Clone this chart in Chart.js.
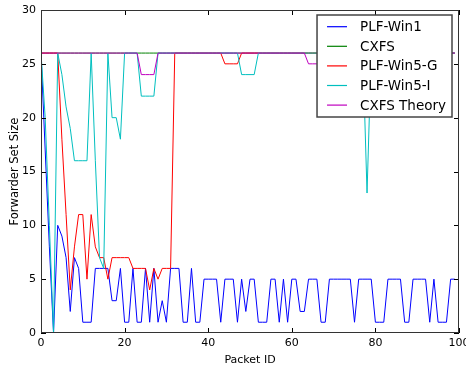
<!DOCTYPE html>
<html>
<head>
<meta charset="utf-8">
<script src="https://cdn.jsdelivr.net/npm/chart.js@4/dist/chart.umd.min.js"></script>
<style>
  html, body { margin: 0; padding: 0; background: #fff; }
  #wrap { width: 466px; height: 367px; }
</style>
</head>
<body>
<div id="wrap"><canvas id="fssChart" width="466" height="367"></canvas></div>
<script>
// packet ids on the x axis
const packetIds = Array.from({ length: 100 }, (_, i) => i);

const plfWin1 = [
  26, 17, 8, 0, 10, 9, 7, 2, 7, 6,
  1, 1, 1, 6, 6, 6, 6, 3, 3, 6,
  1, 1, 6, 1, 1, 6, 1, 6, 1, 3,
  1, 6, 6, 6, 1, 1, 6, 1, 1, 5,
  5, 5, 5, 1, 5, 5, 5, 1, 5, 2,
  5, 5, 1, 1, 1, 5, 5, 1, 5, 1,
  5, 5, 2, 2, 5, 5, 5, 1, 1, 5,
  5, 5, 5, 5, 5, 1, 5, 5, 5, 5,
  1, 1, 1, 5, 5, 5, 5, 1, 1, 5,
  5, 5, 5, 1, 5, 1, 1, 1, 5, 5
];

const cxfs = [
  26, 26, 26, 26, 26, 26, 26, 26, 26, 26,
  26, 26, 26, 26, 26, 26, 26, 26, 26, 26,
  26, 26, 26, 26, 26, 26, 26, 26, 26, 26,
  26, 26, 26, 26, 26, 26, 26, 26, 26, 26,
  26, 26, 26, 26, 26, 26, 26, 26, 26, 26,
  26, 26, 26, 26, 26, 26, 26, 26, 26, 26,
  26, 26, 26, 26, 26, 26, 26, 26, 26, 26,
  26, 26, 26, 26, 26, 26, 26, 26, 26, 26,
  26, 26, 26, 26, 26, 26, 26, 26, 26, 26,
  26, 26, 26, 26, 26, 26, 26, 26, 26, 26
];

const plfWin5G = [
  26, 26, 26, 26, 26, 18, 11, 4, 8, 11,
  11, 5, 11, 8, 7, 7, 5, 7, 7, 7,
  7, 7, 6, 6, 6, 6, 4, 6, 5, 6,
  6, 6, 26, 26, 26, 26, 26, 26, 26, 26,
  26, 26, 26, 26, 25, 25, 25, 25, 26, 26,
  26, 26, 26, 26, 26, 26, 26, 26, 26, 26,
  26, 26, 26, 26, 26, 26, 26, 26, 26, 26,
  26, 26, 26, 26, 26, 26, 26, 26, 26, 26,
  26, 26, 26, 26, 26, 26, 26, 26, 26, 26,
  26, 26, 26, 26, 26, 26, 26, 26, 26, 26
];

const plfWin5I = [
  26, 20, 10, 0, 26, 24, 21, 19, 16, 16,
  16, 16, 26, 16, 7, 6, 26, 20, 20, 18,
  26, 26, 26, 26, 22, 22, 22, 22, 26, 26,
  26, 26, 26, 26, 26, 26, 26, 26, 26, 26,
  26, 26, 26, 26, 26, 26, 26, 26, 24, 24,
  24, 24, 26, 26, 26, 26, 26, 26, 26, 26,
  26, 26, 26, 26, 26, 26, 26, 26, 26, 26,
  26, 26, 26, 26, 26, 26, 26, 26, 13, 26,
  26, 26, 26, 26, 26, 26, 26, 26, 26, 26,
  26, 26, 26, 26, 26, 26, 26, 26, 26, 26
];

const cxfsTheory = [
  26, 26, 26, 26, 26, 26, 26, 26, 26, 26,
  26, 26, 26, 26, 26, 26, 26, 26, 26, 26,
  26, 26, 26, 26, 24, 24, 24, 24, 26, 26,
  26, 26, 26, 26, 26, 26, 26, 26, 26, 26,
  26, 26, 26, 26, 26, 26, 26, 26, 26, 26,
  26, 26, 26, 26, 26, 26, 26, 26, 26, 26,
  26, 26, 26, 26, 25, 25, 25, 25, 25, 25,
  26, 26, 26, 26, 26, 26, 26, 26, 26, 26,
  26, 26, 26, 26, 26, 26, 26, 26, 26, 26,
  26, 26, 26, 26, 26, 26, 26, 26, 26, 26
];

const xTicks = [0, 20, 40, 60, 80, 100];
const yTicks = [0, 5, 10, 15, 20, 25, 30];

const FONT = "'DejaVu Sans', sans-serif";

function pts(arr) {
  return arr.map((v, i) => ({ x: packetIds[i], y: v }));
}

function series(label, arr, color, order) {
  return {
    label: label,
    data: pts(arr),
    borderColor: color,
    backgroundColor: color,
    borderWidth: 1,
    pointRadius: 0,
    tension: 0,
    fill: false,
    order: order
  };
}

// matplotlib-like frame with inward ticks on all four sides
const frameTicks = {
  id: 'frameTicks',
  afterDatasetsDraw(chart) {
    const c = chart.ctx, a = chart.chartArea;
    const xs = chart.scales.x, ys = chart.scales.y;
    c.save();
    c.strokeStyle = '#000';
    c.lineWidth = 1;
    c.beginPath();
    xTicks.forEach(t => {
      const px = Math.round(xs.getPixelForValue(t)) + 0.5;
      c.moveTo(px, a.bottom); c.lineTo(px, a.bottom - 5);
      c.moveTo(px, a.top); c.lineTo(px, a.top + 5);
    });
    yTicks.forEach(t => {
      const py = Math.round(ys.getPixelForValue(t)) + 0.5;
      c.moveTo(a.left, py); c.lineTo(a.left + 5, py);
      c.moveTo(a.right, py); c.lineTo(a.right - 5, py);
    });
    c.stroke();
    c.strokeStyle = '#333';
    c.strokeRect(a.left + 0.5, a.top + 0.5, a.right - a.left - 1, a.bottom - a.top - 1);
    c.restore();
  }
};

// legend box in the upper right of the plot
const boxLegend = {
  id: 'boxLegend',
  afterDraw(chart) {
    const c = chart.ctx, a = chart.chartArea;
    const sets = chart.data.datasets;
    c.save();
    c.font = '13.5px ' + FONT;
    let maxW = 0;
    sets.forEach(d => { maxW = Math.max(maxW, c.measureText(d.label).width); });
    const w = 10 + 20 + 13 + maxW + 6;
    const rowH = 19.6;
    const h = sets.length * rowH + 4;
    const x0 = a.right - 7 - w, y0 = a.top + 5;
    c.fillStyle = '#fff';
    c.fillRect(x0, y0, w, h);
    c.strokeStyle = '#444';
    c.lineWidth = 1.5;
    c.strokeRect(x0, y0, w, h);
    c.textBaseline = 'middle';
    c.textAlign = 'left';
    sets.forEach((d, i) => {
      const cy = y0 + 11.7 + i * rowH;
      c.strokeStyle = d.borderColor;
      c.lineWidth = 1.2;
      c.beginPath();
      c.moveTo(x0 + 10, cy); c.lineTo(x0 + 30, cy);
      c.stroke();
      c.fillStyle = '#000';
      c.fillText(d.label, x0 + 43, cy + 1);
    });
    c.restore();
  }
};

new Chart(document.getElementById('fssChart'), {
  type: 'line',
  data: {
    datasets: [
      series('PLF-Win1', plfWin1, '#0000ff', 5),
      series('CXFS', cxfs, '#008000', 4),
      series('PLF-Win5-G', plfWin5G, '#ff0000', 3),
      series('PLF-Win5-I', plfWin5I, '#00bfbf', 2),
      series('CXFS Theory', cxfsTheory, '#bf00bf', 1)
    ]
  },
  options: {
    responsive: false,
    animation: false,
    devicePixelRatio: 1,
    layout: { padding: { top: 10, right: 7, left: 0, bottom: 0 } },
    plugins: {
      legend: { display: false },
      tooltip: { enabled: false }
    },
    scales: {
      x: {
        type: 'linear',
        min: 0,
        max: 100,
        afterBuildTicks: s => { s.ticks = xTicks.map(v => ({ value: v })); },
        afterFit: s => { s.height = 34; s.paddingLeft = 0; s.paddingRight = 0; },
        grid: { display: false, drawTicks: false },
        border: { display: false },
        ticks: { padding: 4, color: '#000', font: { family: FONT, size: 11 }, maxRotation: 0 },
        title: { display: true, text: 'Packet ID', color: '#000', font: { family: FONT, size: 11 }, padding: { top: 2, bottom: 0 } }
      },
      y: {
        min: 0,
        max: 30,
        afterBuildTicks: s => { s.ticks = yTicks.map(v => ({ value: v })); },
        afterFit: s => { s.width = 41; s.paddingTop = 0; s.paddingBottom = 0; },
        grid: { display: false, drawTicks: false },
        border: { display: false },
        ticks: { padding: 5, color: '#000', font: { family: FONT, size: 11 } },
        title: { display: true, text: 'Forwarder Set Size', color: '#000', font: { family: FONT, size: 11.5 }, padding: { top: 8, bottom: 0 } }
      }
    }
  },
  plugins: [frameTicks, boxLegend]
});
</script>
</body>
</html>
